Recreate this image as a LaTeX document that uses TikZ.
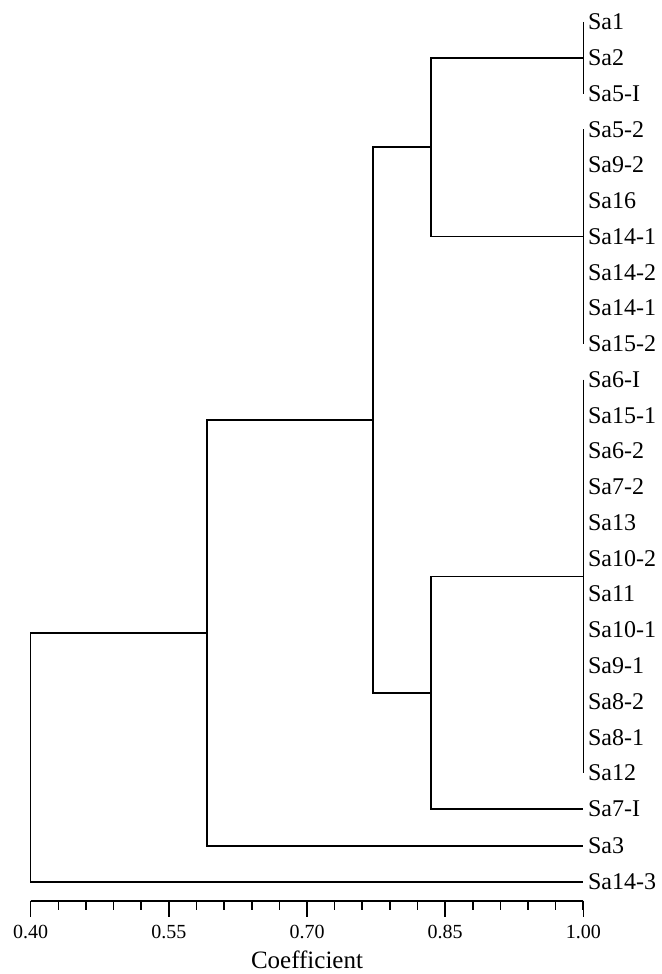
\documentclass[tikz,border=0pt]{standalone}
\usepackage{fontspec}
\setmainfont{Liberation Serif}

\begin{document}
\begin{tikzpicture}[x=921pt,y=-1pt,line width=1.6pt,line join=miter]
		\tikzstyle{LeafStyle} = [anchor=west, inner ysep=0pt, inner xsep=4pt, font=\fontsize{24}{26}\selectfont]
		\tikzstyle{AxisStyle} = [inner sep=0pt, font=\fontsize{20}{22}\selectfont]
		\useasboundingbox (0.36667,0) rectangle (1.08444,974);

		% leaves in the big clusters
		\foreach \lab [count=\i from 0] in {Sa1,Sa2,Sa5-I,Sa5-2,Sa9-2,Sa16,Sa14-1,Sa14-2,Sa14-1,Sa15-2,Sa6-I,Sa15-1,Sa6-2,Sa7-2,Sa13,Sa10-2,Sa11,Sa10-1,Sa9-1,Sa8-2,Sa8-1,Sa12}
			\node[LeafStyle] (l\i) at (1.0,{22+35.76*\i}) {\lab};
		\node[LeafStyle] (s7) at (1.0,809) {Sa7-I};
		\node[LeafStyle] (s3) at (1.0,846) {Sa3};
		\node[LeafStyle] (s14) at (1.0,882) {Sa14-3};

		% joins
		\coordinate (jB1) at (1.0,576.3);
		\coordinate (jA) at (0.8346,147.2); \coordinate (jB) at (0.8346,692.7);
		\coordinate (jAB) at (0.7717,420); \coordinate (jC) at (0.5914,633);
		\coordinate (root) at (0.4,757.5);

		\draw (l0.west) -- (l2.west); \draw (l3.west) -- (l9.west); \draw (l10.west) -- (l21.west);
		\draw (l1.west) -| (jA) |- (l6.west);
		\draw (jB1) -| (jB) |- (s7.west);
		\draw (jA) -| (jAB) |- (jB);
		\draw (jAB) -| (jC) |- (s3.west);
		\draw (jC) -| (root) |- (s14.west);

		% axis
		\draw (0.4,900.7) -- (1.0,900.7);
		\foreach \k in {0,...,20}
			\draw ({0.4+0.03*\k},900.7) -- ({0.4+0.03*\k},910);
		\foreach \v [count=\j] in {0.40,0.55,0.70,0.85,1.00} {
			\draw (\v,900.7) -- (\v,916.5);
			\node[AxisStyle] (ax\j) at (\v,932) {\v};
		}
		\node[font=\fontsize{25}{27}\selectfont] (coef) at (0.7,960) {Coefficient};
	\end{tikzpicture}
\end{document}
